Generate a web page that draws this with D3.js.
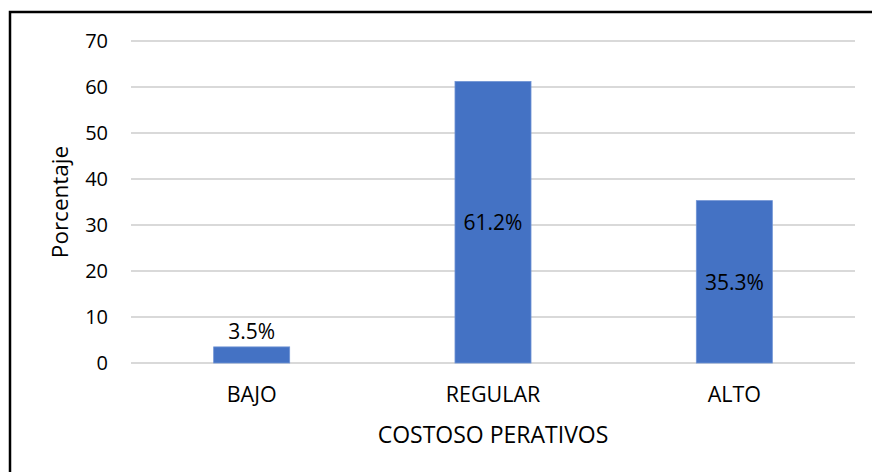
<!DOCTYPE html>
<html><head><meta charset="utf-8">
<script src="https://cdn.jsdelivr.net/npm/d3@7"></script>
<style>body{margin:0;background:#fff}svg{display:block}text{font-family:"Open Sans",sans-serif;fill:#000}</style>
</head><body>
<svg id="c" width="872" height="472"></svg>
<script>
const categories = ["BAJO", "REGULAR", "ALTO"];
const values = [3.5, 61.2, 35.3];
const labels = ["3.5%", "61.2%", "35.3%"];
const yTicks = [0, 10, 20, 30, 40, 50, 60, 70];
const xTitle = "COSTOSO PERATIVOS";
const yTitle = "Porcentaje";

const svg = d3.select("#c");
const m = {left: 131, right: 855, top: 41, bottom: 363};

svg.append("rect").attr("x", 10).attr("y", 12).attr("width", 900).attr("height", 500)
  .attr("fill", "none").attr("stroke", "#000").attr("stroke-width", 2.5);

const x = d3.scaleBand().domain(categories).range([m.left, m.right]).padding(0);
const y = d3.scaleLinear().domain([0, 70]).range([m.bottom, m.top]);

// gridlines
svg.append("g").selectAll("line").data(yTicks).join("line")
  .attr("x1", m.left).attr("x2", m.right)
  .attr("y1", d => y(d)).attr("y2", d => y(d))
  .attr("stroke", "#d9d9d9").attr("stroke-width", 1.8);

// y axis
const yAxis = d3.axisLeft(y).tickValues(yTicks).tickSize(0).tickPadding(23);
const ga = svg.append("g").attr("transform", `translate(${m.left},0)`).call(yAxis);
ga.select(".domain").remove();
ga.selectAll("text").attr("font-size", 20).attr("font-family", "Open Sans").attr("fill", "#000");

// bars
const bw = x.bandwidth() * 0.315;
svg.append("g").selectAll("rect").data(values).join("rect")
  .attr("x", (d, i) => x(categories[i]) + x.bandwidth() / 2 - bw / 2)
  .attr("width", bw)
  .attr("y", d => y(d))
  .attr("height", d => y(0) - y(d))
  .attr("fill", "#4472C4").attr("stroke", "#6f93d4").attr("stroke-width", 0.8);

// data labels
svg.append("g").selectAll("text").data(values).join("text")
  .attr("x", (d, i) => x(categories[i]) + x.bandwidth() / 2)
  .attr("y", d => (y(0) - y(d)) > 40 ? (y(d) + y(0)) / 2 + 8 : y(d) - 8)
  .attr("text-anchor", "middle").attr("font-size", 21)
  .text((d, i) => labels[i]);

// x axis labels
const xAxis = d3.axisBottom(x).tickSize(0).tickPadding(24);
const gx = svg.append("g").attr("transform", `translate(0,${m.bottom})`).call(xAxis);
gx.select(".domain").remove();
gx.selectAll("text").attr("font-size", 21.5).attr("font-family", "Open Sans").attr("fill", "#000");

svg.append("text").attr("x", (m.left + m.right) / 2).attr("y", 443)
  .attr("text-anchor", "middle").attr("font-size", 23).text(xTitle);

svg.append("text").attr("transform", `translate(68,${(m.top + m.bottom) / 2}) rotate(-90)`)
  .attr("text-anchor", "middle").attr("font-size", 22.5).text(yTitle);
</script>
</body></html>
